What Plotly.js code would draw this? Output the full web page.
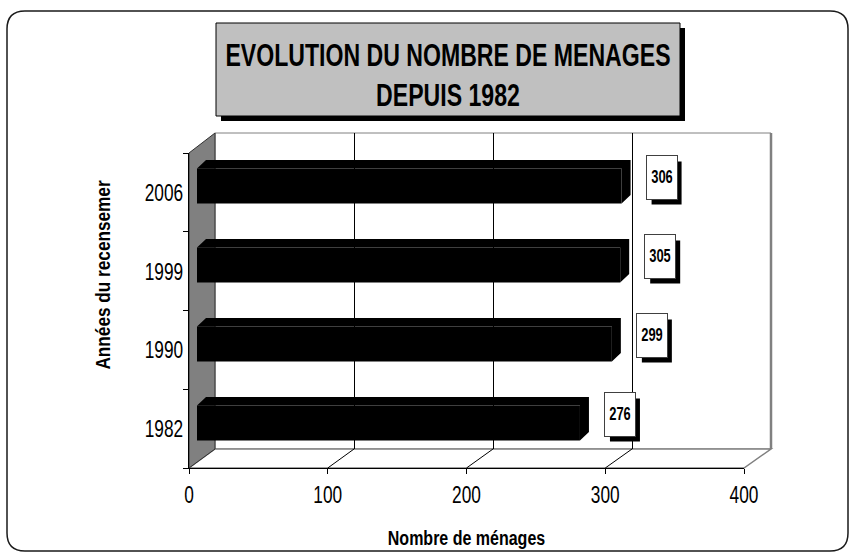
<!DOCTYPE html>
<html>
<head>
<meta charset="utf-8">
<script src="https://cdn.plot.ly/plotly-3.0.1.min.js"></script>
<style>html,body{margin:0;padding:0;background:#fff;}#chart{width:856px;height:559px;}</style>
</head>
<body>
<div id="chart"></div>
<script>
// ---- data ----
const years = ['1982', '1990', '1999', '2006'];
const menages = [276, 299, 305, 306];
const xTickVals = [0, 100, 200, 300, 400];
const xTickText = ['0', '100', '200', '300', '400'];
const gridVals = [100, 200, 300];
const chartTitle = 'EVOLUTION DU NOMBRE DE MENAGES<br>DEPUIS 1982';
const xTitle = 'Nombre de ménages';
const yTitle = 'Années du recensemer';

// ---- layout geometry (pixels) ----
const W = 856, H = 559;
const FONT = '"Liberation Sans", Arial, sans-serif';
const FRONT = {x0: 189, x1: 744, yTop: 153, yBot: 468};
const BACK = {x0: 215, x1: 771, yTop: 133, yBot: 449};
const BAR = {x0: 197, x1: 752, top: 146.5, bot: 462.5};
const DEPTH = {dx: 9, dy: 8.5};
const BAR_W = 0.44;
const XMAX = 400;
const fx = p => p / W;
const fy = p => 1 - p / H;

// ---- depth faces of the 3D bars, computed from values through bar axes ----
const pxPerUnit = (BAR.x1 - BAR.x0) / XMAX;
const pxPerCat = (BAR.bot - BAR.top) / years.length;
const dxD = DEPTH.dx / pxPerUnit;
const dyD = DEPTH.dy / pxPerCat;
const hw = BAR_W / 2;
const px = [], py = [];
menages.forEach((v, i) => {
  px.push(0, dxD, v + dxD, v + dxD, v, v, 0, null);
  py.push(i + hw, i + hw + dyD, i + hw + dyD, i - hw + dyD, i - hw, i + hw, i + hw, null);
});

const traces = [
  {type: 'scatter', x: px, y: py, xaxis: 'x', yaxis: 'y', mode: 'lines', fill: 'toself',
   fillcolor: '#000', line: {width: 0, color: '#000'}, hoverinfo: 'skip', showlegend: false},
  {type: 'bar', orientation: 'h', x: menages, y: years.map((_, i) => i), xaxis: 'x', yaxis: 'y',
   width: BAR_W, marker: {color: '#000', line: {width: 0}}, showlegend: false, hoverinfo: 'x'},
  {type: 'scatter', x: [0, XMAX], y: [0, 1], xaxis: 'x2', yaxis: 'y2', mode: 'markers',
   marker: {opacity: 0}, hoverinfo: 'skip', showlegend: false},
  {type: 'scatter', x: years.map(() => 0), y: years, xaxis: 'x3', yaxis: 'y3', mode: 'markers',
   marker: {opacity: 0}, hoverinfo: 'skip', showlegend: false},
  {type: 'scatter', x: [0], y: [0], xaxis: 'x3', yaxis: 'y4', mode: 'markers',
   marker: {opacity: 0}, hoverinfo: 'skip', showlegend: false}
];

// ---- decorative 3D frame ----
const P = (x, y) => fx(x) + ',' + fy(y);
const shapes = [];
const fr = {x0: 7, y0: 11, x1: 848, y1: 551, r: 18};
shapes.push({type: 'path', xref: 'paper', yref: 'paper', layer: 'below',
  path: 'M' + P(fr.x0 + fr.r, fr.y0) + ' L' + P(fr.x1 - fr.r, fr.y0) + ' Q' + P(fr.x1, fr.y0) + ' ' + P(fr.x1, fr.y0 + fr.r) +
        ' L' + P(fr.x1, fr.y1 - fr.r) + ' Q' + P(fr.x1, fr.y1) + ' ' + P(fr.x1 - fr.r, fr.y1) +
        ' L' + P(fr.x0 + fr.r, fr.y1) + ' Q' + P(fr.x0, fr.y1) + ' ' + P(fr.x0, fr.y1 - fr.r) +
        ' L' + P(fr.x0, fr.y0 + fr.r) + ' Q' + P(fr.x0, fr.y0) + ' ' + P(fr.x0 + fr.r, fr.y0) + ' Z',
  line: {color: '#1a1a1a', width: 1.5}, fillcolor: '#fff'});
const TB = {x0: 216, y0: 23, x1: 680, y1: 116, s: 5};
shapes.push({type: 'rect', xref: 'paper', yref: 'paper', layer: 'below',
  x0: fx(TB.x0 + TB.s), x1: fx(TB.x1 + TB.s), y0: fy(TB.y0 + TB.s), y1: fy(TB.y1 + TB.s),
  fillcolor: '#000', line: {width: 0}});
shapes.push({type: 'rect', xref: 'paper', yref: 'paper', layer: 'below',
  x0: fx(TB.x0), x1: fx(TB.x1), y0: fy(TB.y0), y1: fy(TB.y1),
  fillcolor: '#c0c0c0', line: {color: '#000', width: 1}});
shapes.push({type: 'rect', xref: 'paper', yref: 'paper', layer: 'below',
  x0: fx(BACK.x0), x1: fx(BACK.x1), y0: fy(BACK.yBot), y1: fy(BACK.yTop),
  fillcolor: '#fff', line: {color: '#808080', width: 1}});
shapes.push({type: 'line', xref: 'paper', yref: 'paper', layer: 'below',
  x0: fx(BACK.x1), x1: fx(BACK.x1), y0: fy(BACK.yBot), y1: fy(BACK.yTop),
  line: {color: '#808080', width: 2.5}});
shapes.push({type: 'path', xref: 'paper', yref: 'paper', layer: 'below',
  path: 'M' + P(FRONT.x0, FRONT.yBot) + ' L' + P(BACK.x0, BACK.yBot) + ' L' + P(BACK.x1, BACK.yBot) + ' L' + P(FRONT.x1, FRONT.yBot) + ' Z',
  fillcolor: '#fff', line: {color: '#808080', width: 1.5}});
gridVals.forEach(v => {
  const xf = FRONT.x0 + v * (FRONT.x1 - FRONT.x0) / XMAX;
  const xb = BACK.x0 + v * (BACK.x1 - BACK.x0) / XMAX;
  shapes.push({type: 'line', xref: 'paper', yref: 'paper', layer: 'below',
    x0: fx(xf), y0: fy(FRONT.yBot), x1: fx(xb), y1: fy(BACK.yBot), line: {color: '#000', width: 1}});
});
shapes.push({type: 'path', xref: 'paper', yref: 'paper', layer: 'below',
  path: 'M' + P(FRONT.x0, FRONT.yTop) + ' L' + P(BACK.x0, BACK.yTop) + ' L' + P(BACK.x0, BACK.yBot) + ' L' + P(FRONT.x0, FRONT.yBot) + ' Z',
  fillcolor: '#808080', line: {color: '#303030', width: 1}});

// ---- value labels (white box) with a black drop shadow ----
const LBL = {dx: 40, dy: 9, w: 30, h: 43, sx: 5, sy: 6};
const annotations = [];
menages.forEach((v, i) => {
  shapes.push({type: 'rect', layer: 'above', xref: 'x', yref: 'y',
    xsizemode: 'pixel', ysizemode: 'pixel', xanchor: v, yanchor: i,
    x0: LBL.dx - LBL.w / 2 + LBL.sx, x1: LBL.dx + LBL.w / 2 + LBL.sx,
    y0: LBL.dy - LBL.h / 2 - LBL.sy, y1: LBL.dy + LBL.h / 2 - LBL.sy,
    fillcolor: '#000', line: {width: 0}});
  annotations.push({xref: 'x', yref: 'y', x: v, y: i, xshift: LBL.dx, yshift: LBL.dy,
    text: String(v), showarrow: false, width: LBL.w, height: LBL.h, bgcolor: '#fff',
    bordercolor: '#404040', borderwidth: 1, borderpad: 0,
    font: {family: FONT, size: 18, color: '#000', weight: 'bold'}});
});

const tickFont = {family: FONT, size: 24, color: '#000'};
const axTitleFont = {family: FONT, size: 20, color: '#000', weight: 'bold'};

const layout = {
  width: W, height: H,
  margin: {l: 0, r: 0, t: 0, b: 0, pad: 0},
  paper_bgcolor: '#fff', plot_bgcolor: 'rgba(0,0,0,0)',
  showlegend: false,
  title: {text: chartTitle, font: {family: FONT, size: 31, color: '#000', weight: 'bold'},
          x: fx(448), xanchor: 'center', xref: 'paper', y: fy(66), yanchor: 'middle', yref: 'container'},
  xaxis: {domain: [fx(BAR.x0), fx(BAR.x1)], range: [0, XMAX], visible: false, fixedrange: true, anchor: 'y'},
  yaxis: {domain: [fy(BAR.bot), fy(BAR.top)], range: [-0.5, years.length - 0.5], visible: false, fixedrange: true, anchor: 'x'},
  xaxis2: {domain: [fx(BACK.x0), fx(BACK.x1)], range: [0, XMAX], anchor: 'y2', showgrid: true, gridcolor: '#000', gridwidth: 1,
           tickvals: gridVals, showticklabels: false, ticks: '', zeroline: false, showline: false, fixedrange: true},
  yaxis2: {domain: [fy(BACK.yBot), fy(BACK.yTop)], range: [0, 1], anchor: 'x2', showgrid: false, showticklabels: false,
           ticks: '', zeroline: false, showline: false, fixedrange: true},
  xaxis3: {domain: [fx(FRONT.x0), fx(FRONT.x1)], range: [0, XMAX], anchor: 'y3', tickvals: xTickVals, ticktext: xTickText,
           ticks: 'outside', ticklen: 5, tickcolor: '#000', tickwidth: 1, showline: true, linecolor: '#000', linewidth: 1,
           showgrid: false, zeroline: false, tickfont: tickFont, fixedrange: true,
           title: {text: xTitle, font: axTitleFont, standoff: 24}},
  yaxis3: {domain: [fy(FRONT.yBot), fy(FRONT.yTop)], anchor: 'x3', type: 'category', categoryorder: 'array', categoryarray: years,
           range: [-0.5, years.length - 0.5], tickson: 'boundaries', ticks: 'outside', ticklen: 5, tickcolor: '#000', tickwidth: 1,
           showline: true, linecolor: '#000', linewidth: 1, showgrid: false, zeroline: false, tickfont: tickFont, fixedrange: true},
  yaxis4: {domain: [fy(372), fy(178)], anchor: 'free', position: fx(118), range: [0, 1], showgrid: false, showline: false,
           showticklabels: false, ticks: '', zeroline: false, fixedrange: true,
           title: {text: yTitle, font: axTitleFont, standoff: 0}},
  shapes: shapes,
  annotations: annotations
};

// horizontal condensing of glyphs (the reference uses a narrow typeface)
function condense(sel, k) {
  document.querySelectorAll(sel).forEach(el => {
    const bb = el.getBBox();
    const a = el.getAttribute('text-anchor') || 'start';
    const cx = a === 'end' ? bb.x + bb.width : (a === 'middle' ? bb.x + bb.width / 2 : bb.x);
    const cy = bb.y + bb.height / 2;
    const t = el.getAttribute('transform') || '';
    el.setAttribute('transform', t + ' translate(' + cx + ',' + cy + ') scale(' + k + ',1) translate(' + (-cx) + ',' + (-cy) + ')');
  });
}

Plotly.newPlot('chart', traces, layout, {displayModeBar: false, staticPlot: true}).then(() => {
  condense('.gtitle', 0.745);
  condense('.x3tick text', 0.72);
  condense('.y3tick text', 0.72);
  condense('.g-x3title text', 0.8);
  condense('.g-y4title text', 0.86);
  condense('.annotation-text', 0.72);
});
</script>
</body>
</html>
